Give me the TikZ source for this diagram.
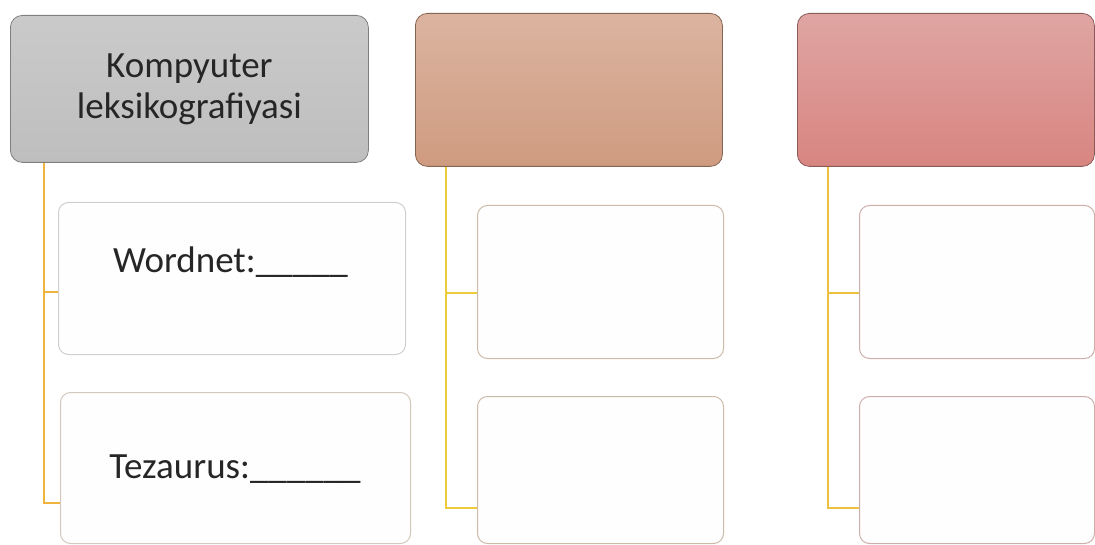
\documentclass[tikz,border=0pt]{standalone}
\usepackage{fontspec}
\setmainfont{Carlito}
\begin{document}
\begin{tikzpicture}[x=1pt,y=-1pt,
  hdr/.style={draw=#1!65!black, line width=0.8pt, rounded corners=12pt, inner sep=0pt, anchor=north west},
  child/.style={draw=#1, line width=1pt, fill=white!99!gray, rounded corners=10pt, inner sep=0pt, anchor=north west},
  conn/.style={draw=#1, line width=2pt},
  big/.style={font=\fontsize{37}{41}\selectfont, text=black!85},
]
\useasboundingbox (0,0) rectangle (1095,545);
\definecolor{gA}{HTML}{C4C4C4}
\definecolor{gB}{HTML}{CF9B80}
\definecolor{gC}{HTML}{D68C88}
\definecolor{lnA}{HTML}{EFB43C}
\definecolor{lnB}{HTML}{EDCB3A}
\definecolor{lnC}{HTML}{EEC040}
\definecolor{bdA}{HTML}{CFCFCF}
\definecolor{bdA2}{HTML}{D2C8BC}
\definecolor{bdB}{HTML}{CDBBAA}
\definecolor{bdC}{HTML}{CDAEAA}

% headers
\node[hdr=gA, top color=gA!90!white, bottom color=gA!97!black, minimum width=358pt, minimum height=147pt] (h1) at (10,15) {};
\node[hdr=gB, top color=gB!75!white, bottom color=gB, minimum width=307pt, minimum height=153pt] (h2) at (415,13) {};
\node[hdr=gC, top color=gC!78!white, bottom color=gC!95!red, minimum width=297pt, minimum height=153pt] (h3) at (797,13) {};
\node[big, align=center] (t0) at (h1.center) {Kompyuter\\leksikografiyasi};

% children
\node[child=bdA, minimum width=347pt, minimum height=152pt] (a1) at (58,202) {};
\node[child=bdA2, minimum width=350pt, minimum height=151pt] (b1) at (60,392) {};
\node[child=bdB, minimum width=246pt, minimum height=153pt] (a2) at (477,205) {};
\node[child=bdB, minimum width=246pt, minimum height=147pt] (b2) at (477,396) {};
\node[child=bdC, minimum width=235pt, minimum height=153pt] (a3) at (859,205) {};
\node[child=bdC, minimum width=235pt, minimum height=147pt] (b3) at (859,396) {};

\node[big, anchor=base] (wt) at (230.5,273) {Wordnet:\_\_\_\_\_};
\node[big, anchor=base] (tt) at (235,478) {Tezaurus:\_\_\_\_\_\_};

% connectors
\coordinate (r1) at ([xshift=34pt]h1.south west);
\coordinate (r2) at ([xshift=31pt]h2.south west);
\coordinate (r3) at ([xshift=31pt]h3.south west);
\draw[conn=lnA] (r1) |- ([yshift=-14pt]a1.west);
\draw[conn=lnA] (r1) |- ([yshift=-34.5pt]b1.west);
\draw[conn=lnB] (r2) |- ([yshift=-11.5pt]a2.west);
\draw[conn=lnB] (r2) |- ([yshift=-37.5pt]b2.west);
\draw[conn=lnC] (r3) |- ([yshift=-11.5pt]a3.west);
\draw[conn=lnC] (r3) |- ([yshift=-37.5pt]b3.west);
\end{tikzpicture}
\end{document}
